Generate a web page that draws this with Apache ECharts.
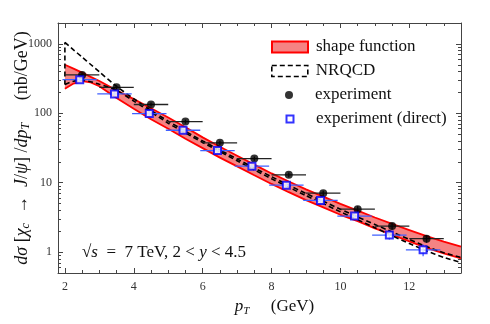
<!DOCTYPE html>
<html><head><meta charset="utf-8">
<script src="https://cdn.jsdelivr.net/npm/echarts@6/dist/echarts.min.js"></script>
<style>html,body{margin:0;padding:0;background:#fff}#c{width:490px;height:324px}</style>
</head><body><div id="c"></div>
<script>
// ---- data ----
const ptGrid = [2, 2.25, 2.5, 2.75, 3, 3.5, 4, 4.5, 5, 5.5, 6, 6.5, 7, 7.5, 8, 8.5, 9, 9.5, 10, 10.5, 11, 11.5, 12, 12.5, 13, 13.5];
const shapeHigh = [500, 440, 385, 335, 292, 215, 160, 118, 87, 63, 45, 33, 24.5, 18.2, 13.6, 10.4, 8.0, 6.3, 4.95, 3.95, 3.15, 2.55, 2.08, 1.70, 1.42, 1.2];
const shapeLow  = [225, 268, 290, 278, 245, 166, 116, 82, 60, 43, 31.5, 23, 17.2, 12.8, 9.6, 7.3, 5.6, 4.4, 3.45, 2.8, 2.2, 1.78, 1.43, 1.15, 0.96, 0.81];
const nrqcdHigh = [1050, 820, 645, 505, 395, 245, 162, 110, 77, 55, 40, 29.5, 22, 16.3, 12.2, 9.2, 7.0, 5.4, 4.15, 3.2, 2.5, 1.95, 1.52, 1.2, 0.98, 0.84];
const nrqcdLow  = [260, 290, 300, 285, 262, 215, 150, 104, 72, 52, 38, 28, 20.7, 15.3, 11.4, 8.6, 6.5, 5.0, 3.8, 2.92, 2.25, 1.72, 1.33, 1.04, 0.84, 0.71];

const expPt   = [2.5, 3.5, 4.5, 5.5, 6.5, 7.5, 8.5, 9.5, 10.5, 11.5, 12.5];
const expVal  = [357, 237, 134, 76, 37.5, 22.3, 13.0, 7.06, 4.16, 2.37, 1.56];
const expErr  = [25, 15, 9, 5, 2.6, 1.6, 1.0, 0.6, 0.4, 0.25, 0.2];
const dirPt   = [2.43, 3.44, 4.45, 5.43, 6.43, 7.43, 8.43, 9.42, 10.41, 11.42, 12.40];
const dirVal  = [305, 190, 99, 57, 29, 17.3, 9.2, 5.55, 3.3, 1.76, 1.08];
const dirErr  = [25, 15, 8, 4.5, 2.3, 1.5, 0.9, 0.6, 0.4, 0.24, 0.21];
const binHalf = [0.5, 0.5, 0.5, 0.5, 0.5, 0.5, 0.5, 0.5, 0.5, 0.5, 0.5];

const xMajorTicks = [2, 4, 6, 8, 10, 12];
const xMinorTicks = [2.5, 3, 3.5, 4.5, 5, 5.5, 6.5, 7, 7.5, 8.5, 9, 9.5, 10.5, 11, 11.5, 12.5, 13];
const yMajorTicks = [1, 10, 100, 1000];
const yMinorTicks = [0.6, 0.7, 0.8, 0.9, 2, 3, 4, 5, 6, 7, 8, 9, 20, 30, 40, 50, 60, 70, 80, 90, 200, 300, 400, 500, 600, 700, 800, 900];

// ---- chart ----
const SERIF = 'Liberation Serif';
const X_MIN = 1.8, X_MAX = 13.5, Y_MIN = 0.5, Y_MAX = 2000;
const AX = '#444';
const gridBox = {left: 58, right: 29, top: 23, bottom: 51, outerBoundsMode: 'none', containLabel: false};

function xAx(grid, pos, ticks, len, line, labels, extra) {
  return Object.assign({
    gridIndex: grid, type: 'value', position: pos, min: X_MIN, max: X_MAX,
    axisLine: {show: line, lineStyle: {color: AX, width: 1}},
    axisTick: {show: true, inside: true, length: len, customValues: ticks, lineStyle: {color: AX, width: 1}},
    axisLabel: labels ? {show: true, customValues: ticks, fontFamily: SERIF, fontSize: 12, color: '#333', margin: 8} : {show: false},
    splitLine: {show: false}, nameMoveOverlap: false
  }, extra || {});
}
function yAx(grid, pos, ticks, len, line, labels, extra) {
  return Object.assign({
    gridIndex: grid, type: 'log', logBase: 10, position: pos, min: Y_MIN, max: Y_MAX,
    axisLine: {show: line, lineStyle: {color: AX, width: 1}},
    axisTick: {show: true, inside: true, length: len, customValues: ticks, lineStyle: {color: AX, width: 1}},
    axisLabel: labels ? {show: true, customValues: ticks, fontFamily: SERIF, fontSize: 12, color: '#333', margin: 6,
      formatter: v => String(Math.round(v))} : {show: false},
    splitLine: {show: false}, minorTick: {show: false}, nameMoveOverlap: false
  }, extra || {});
}

function rich(size) {
  return {
    r: {fontFamily: SERIF, fontSize: size, lineHeight: 20, color: '#111', fontWeight: 'normal'},
    i: {fontFamily: SERIF, fontSize: size, lineHeight: 20, fontStyle: 'italic', color: '#111', fontWeight: 'normal'},
    s: {fontFamily: SERIF, fontSize: Math.round(size * 0.65), lineHeight: 13, fontStyle: 'italic', color: '#111', fontWeight: 'normal', verticalAlign: 'bottom'}
  };
}

function errRender(color) {
  return function (params, api) {
    const x = api.value(0), y = api.value(1), e = api.value(2), h = api.value(3);
    const a = api.coord([x - h, y]), b = api.coord([x + h, y]);
    const c = api.coord([x, y - e]), d = api.coord([x, y + e]);
    return {type: 'group', children: [
      {type: 'line', shape: {x1: a[0], y1: a[1], x2: b[0], y2: b[1]}, style: {stroke: color, lineWidth: 1.3}},
      {type: 'line', shape: {x1: c[0], y1: c[1], x2: d[0], y2: d[1]}, style: {stroke: color, lineWidth: 1.3}}
    ]};
  };
}

function bandRender(params, api) {
  const pts = [];
  for (let i = 0; i < ptGrid.length; i++) pts.push(api.coord([ptGrid[i], shapeHigh[i]]));
  for (let i = ptGrid.length - 1; i >= 0; i--) pts.push(api.coord([ptGrid[i], shapeLow[i]]));
  return {type: 'polygon', shape: {points: pts}, style: {fill: '#f58383', stroke: null}};
}

const legendText = {fontFamily: SERIF, fontSize: 17, color: '#111', lineHeight: 20};
const legendCommon = {padding: 0, selectedMode: false, orient: 'vertical'};

const option = {
  animation: false,
  backgroundColor: '#fff',
  grid: [Object.assign({}, gridBox), Object.assign({}, gridBox)],
  title: {
    left: 82, top: 243, padding: 0,
    text: '{r|√}{i|s}{r|  =  7 TeV, 2 < }{i|y}{r| < 4.5}',
    textStyle: {fontWeight: 'normal', rich: rich(17)}
  },
  legend: [
    Object.assign({}, legendCommon, {left: 271, top: 37, itemWidth: 36, itemHeight: 11,
      textStyle: Object.assign({}, legendText, {padding: [0, 0, 0, 3]}),
      data: [{name: 'shape function', icon: 'rect', itemStyle: {color: '#f58383', borderColor: '#ff0000', borderWidth: 2}}]}),
    Object.assign({}, legendCommon, {left: 271, top: 61, itemWidth: 36, itemHeight: 11,
      textStyle: Object.assign({}, legendText, {padding: [0, 0, 0, 3]}),
      data: [{name: 'NRQCD', icon: 'rect', itemStyle: {color: 'rgba(255,255,255,0)', borderColor: '#000', borderWidth: 1.6, borderType: [5, 3]}}]}),
    Object.assign({}, legendCommon, {left: 285, top: 85, itemWidth: 8, itemHeight: 8,
      textStyle: Object.assign({}, legendText, {padding: [0, 0, 0, 17]}),
      data: [{name: 'experiment', icon: 'circle', itemStyle: {color: '#000', borderWidth: 0}}]}),
    Object.assign({}, legendCommon, {left: 285.5, top: 109, itemWidth: 7, itemHeight: 7,
      textStyle: Object.assign({}, legendText, {padding: [0, 0, 0, 17.5]}),
      data: [{name: 'experiment (direct)', icon: 'rect', itemStyle: {color: '#fff', borderColor: '#0000ff', borderWidth: 2}}]})
  ],
  xAxis: [
    xAx(0, 'bottom', xMajorTicks, 5, true, true, {
      name: '{i|p}{s|T}{r|     (GeV)}', nameLocation: 'middle', nameGap: 24,
      nameTextStyle: {rich: rich(17), padding: [0, 0, 0, 30]}
    }),
    xAx(0, 'top', xMajorTicks, 5, true, false),
    xAx(1, 'bottom', xMinorTicks, 3, false, false),
    xAx(1, 'top', xMinorTicks, 3, false, false)
  ],
  yAxis: [
    yAx(0, 'left', yMajorTicks, 5, true, true, {
      name: '{i|dσ}{r| [}{i|χ}{s|c}{r|  →  }{i|J}{r|/}{i|ψ}{r|] /}{i|dp}{s|T}{r|     (nb/GeV)}',
      nameLocation: 'middle', nameGap: 26, nameRotate: 90,
      nameTextStyle: {rich: rich(18)}
    }),
    yAx(0, 'right', yMajorTicks, 5, true, false),
    yAx(1, 'left', yMinorTicks, 3, false, false),
    yAx(1, 'right', yMinorTicks, 3, false, false)
  ],
  series: [
    {name: 'sfBand', type: 'custom', xAxisIndex: 0, yAxisIndex: 0, z: 1, renderItem: bandRender, data: [[ptGrid[0], shapeHigh[0]]], silent: true},
    {name: 'sfLow', type: 'line', xAxisIndex: 0, yAxisIndex: 0, symbol: 'none', z: 2,
      lineStyle: {color: '#ff0000', width: 1.8},
      data: ptGrid.map((x, i) => [x, shapeLow[i]])},
    {name: 'sfHigh', type: 'line', xAxisIndex: 0, yAxisIndex: 0, symbol: 'none', z: 2,
      lineStyle: {color: '#ff0000', width: 1.8},
      data: ptGrid.map((x, i) => [x, shapeHigh[i]])},
    {name: 'nrqcdHigh', type: 'line', xAxisIndex: 0, yAxisIndex: 0, smooth: 0.2, symbol: 'none', z: 3,
      lineStyle: {color: '#000', width: 1.6, type: [5, 3]},
      data: ptGrid.map((x, i) => [x, nrqcdHigh[i]])},
    {name: 'nrqcdLow', type: 'line', xAxisIndex: 0, yAxisIndex: 0, smooth: 0.2, symbol: 'none', z: 3,
      lineStyle: {color: '#000', width: 1.6, type: [5, 3]},
      data: ptGrid.map((x, i) => [x, nrqcdLow[i]])},
    {name: 'nrqcdEdge', type: 'line', xAxisIndex: 0, yAxisIndex: 0, symbol: 'none', z: 3,
      lineStyle: {color: '#000', width: 1.6, type: [5, 3]},
      data: [[ptGrid[0], nrqcdLow[0]], [ptGrid[0], nrqcdHigh[0]]]},
    {name: 'expBars', type: 'custom', xAxisIndex: 0, yAxisIndex: 0, z: 4, renderItem: errRender('#222'),
      data: expPt.map((x, i) => [x, expVal[i], expErr[i], binHalf[i]])},
    {name: 'dirBars', type: 'custom', xAxisIndex: 0, yAxisIndex: 0, z: 4, renderItem: errRender('#3f5fff'),
      data: dirPt.map((x, i) => [x, dirVal[i], dirErr[i], binHalf[i]])},
    {name: 'experiment', type: 'scatter', xAxisIndex: 0, yAxisIndex: 0, z: 5, symbol: 'circle', symbolSize: 8,
      itemStyle: {color: '#000'},
      data: expPt.map((x, i) => [x, expVal[i]])},
    {name: 'experiment (direct)', type: 'scatter', xAxisIndex: 0, yAxisIndex: 0, z: 6, symbol: 'rect', symbolSize: 7,
      itemStyle: {color: '#fff', borderColor: '#0000ff', borderWidth: 2},
      data: dirPt.map((x, i) => [x, dirVal[i]])},
    {name: 'shape function', type: 'custom', xAxisIndex: 0, yAxisIndex: 0, renderItem: () => null, data: []},
    {name: 'NRQCD', type: 'custom', xAxisIndex: 0, yAxisIndex: 0, renderItem: () => null, data: []}
  ]
};

const chart = echarts.init(document.getElementById('c'), null, {renderer: 'canvas'});
chart.setOption(option);
</script></body></html>
